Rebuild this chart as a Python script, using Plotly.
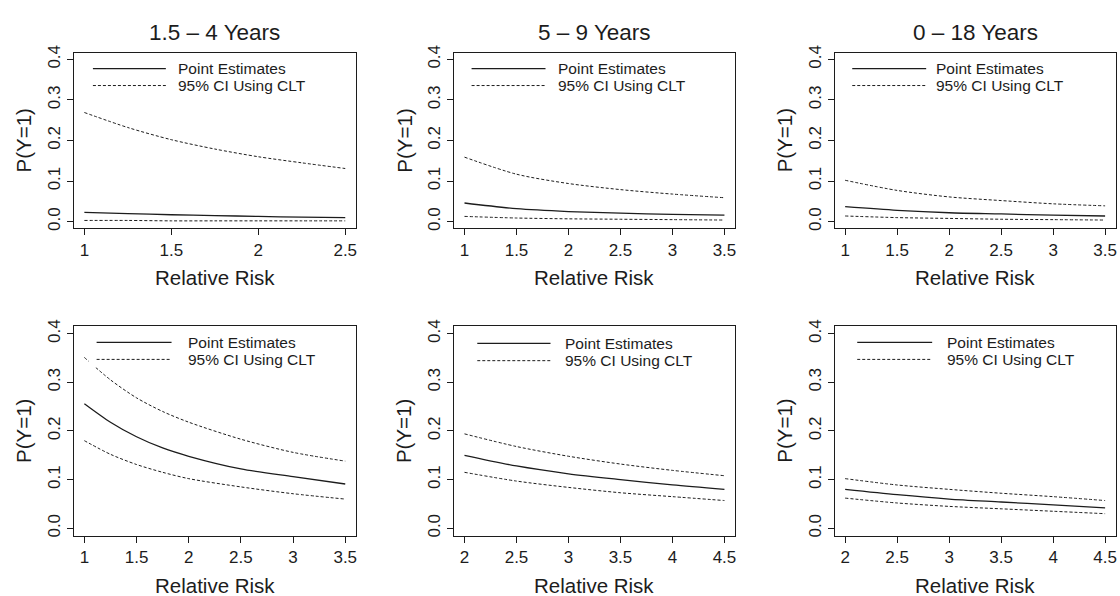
import plotly.graph_objects as go

W, H = 1120, 596
FONT = "Liberation Sans, Arial, Helvetica, sans-serif"
INK = "#1c1c1c"

# ---------------- data ----------------
titles = ["1.5 – 4 Years", "5 – 9 Years", "0 – 18 Years"]
legend_labels = ["Point Estimates", "95% CI Using CLT"]
x_label = "Relative Risk"
y_label = "P(Y=1)"
y_ticks = [0.0, 0.1, 0.2, 0.3, 0.4]
y_tick_text = ["0.0", "0.1", "0.2", "0.3", "0.4"]

# top-left: 1.5 - 4 years
tl_x = [1, 1.25, 1.5, 1.75, 2, 2.25, 2.5]
tl_upper = [0.269, 0.232, 0.202, 0.179, 0.160, 0.145, 0.131]
tl_point = [0.023, 0.020, 0.017, 0.015, 0.013, 0.011, 0.010]
tl_lower = [0.003, 0.003, 0.002, 0.002, 0.002, 0.002, 0.002]
tl_xticks = [1, 1.5, 2, 2.5]

# top-middle: 5 - 9 years
tm_x = [1, 1.5, 2, 2.5, 3, 3.5]
tm_upper = [0.159, 0.117, 0.094, 0.079, 0.068, 0.059]
tm_point = [0.046, 0.032, 0.025, 0.021, 0.018, 0.016]
tm_lower = [0.013, 0.009, 0.007, 0.006, 0.005, 0.004]
tm_xticks = [1, 1.5, 2, 2.5, 3, 3.5]

# top-right: 0 - 18 years
tr_x = [1, 1.5, 2, 2.5, 3, 3.5]
tr_upper = [0.102, 0.077, 0.061, 0.052, 0.044, 0.039]
tr_point = [0.037, 0.028, 0.022, 0.019, 0.016, 0.014]
tr_lower = [0.014, 0.010, 0.008, 0.006, 0.005, 0.004]
tr_xticks = [1, 1.5, 2, 2.5, 3, 3.5]

# bottom-left
bl_x = [1, 1.25, 1.5, 1.75, 2, 2.5, 3, 3.5]
bl_upper = [0.351, 0.305, 0.268, 0.240, 0.218, 0.183, 0.156, 0.138]
bl_point = [0.256, 0.218, 0.188, 0.165, 0.148, 0.122, 0.106, 0.091]
bl_lower = [0.180, 0.152, 0.131, 0.115, 0.102, 0.085, 0.071, 0.060]
bl_xticks = [1, 1.5, 2, 2.5, 3, 3.5]

# bottom-middle
bm_x = [2, 2.5, 3, 3.5, 4, 4.5]
bm_upper = [0.194, 0.168, 0.148, 0.132, 0.119, 0.108]
bm_point = [0.150, 0.128, 0.112, 0.100, 0.089, 0.080]
bm_lower = [0.115, 0.097, 0.084, 0.073, 0.065, 0.057]
bm_xticks = [2, 2.5, 3, 3.5, 4, 4.5]

# bottom-right
br_x = [2, 2.5, 3, 3.5, 4, 4.5]
br_upper = [0.102, 0.089, 0.080, 0.072, 0.065, 0.057]
br_point = [0.080, 0.069, 0.060, 0.054, 0.048, 0.042]
br_lower = [0.062, 0.052, 0.045, 0.040, 0.035, 0.030]
br_xticks = [2, 2.5, 3, 3.5, 4, 4.5]

panels = [
    (tl_x, tl_upper, tl_point, tl_lower, tl_xticks),
    (tm_x, tm_upper, tm_point, tm_lower, tm_xticks),
    (tr_x, tr_upper, tr_point, tr_lower, tr_xticks),
    (bl_x, bl_upper, bl_point, bl_lower, bl_xticks),
    (bm_x, bm_upper, bm_point, bm_lower, bm_xticks),
    (br_x, br_upper, br_point, br_lower, br_xticks),
]

# ---------------- layout geometry (pixels) ----------------
col_px = [(74, 356), (454.5, 735.5), (835.5, 1116.5)]
row_px = [(45.7, 224.3), (323.8, 538.0)]
xlabel_cy = [274.5, 588.5]
# legend: line start, line end, text start, y solid, y dashed
legend_px = [
    (93, 166, 176, 61.7, 79),
    (472, 546, 556, 61.7, 79),
    (853, 927, 935, 61.7, 79),
    (96.7, 171.7, 185.7, 340.7, 358),
    (477.7, 551, 564, 341.7, 359.3),
    (858, 933, 946, 340.7, 358),
]


def px_x(v):
    return v / W


def px_y(v):
    return 1 - v / H


DASH = "3px,2px"

fig = go.Figure()
layout = dict(
    width=W, height=H, margin=dict(l=0, r=0, t=0, b=0),
    paper_bgcolor="white", plot_bgcolor="white", showlegend=False,
    font=dict(family=FONT, color=INK),
)
shapes = []
annotations = []

for i, (xs, up, pt, lo, xt) in enumerate(panels):
    k = i + 1
    sfx = "" if k == 1 else str(k)
    r, c = divmod(i, 3)
    x0p, x1p = col_px[c]
    y0p, y1p = row_px[r]
    for ys, dash, w in ((up, DASH, 1.0), (pt, "solid", 1.3), (lo, DASH, 1.0)):
        fig.add_trace(go.Scatter(
            x=xs, y=ys, mode="lines", xaxis="x" + sfx, yaxis="y" + sfx,
            line=dict(color=INK, width=w, dash=dash, shape="spline", smoothing=0.8),
            hoverinfo="skip",
        ))
    span = xt[-1] - xt[0]
    layout["xaxis" + sfx] = dict(
        domain=[px_x(x0p), px_x(x1p)], anchor="y" + sfx,
        range=[xt[0] - 0.04 * span, xt[-1] + 0.04 * span],
        tickvals=xt, ticktext=[("%g" % v) for v in xt],
        showline=True, mirror=True, linecolor=INK, linewidth=1,
        ticks="outside", ticklen=6, tickcolor=INK, tickwidth=1,
        showgrid=False, zeroline=False, fixedrange=True,
        tickfont=dict(size=17, family=FONT, color=INK),
    )
    layout["yaxis" + sfx] = dict(
        domain=[px_y(y1p), px_y(y0p)], anchor="x" + sfx,
        range=[-0.016, 0.416],
        tickvals=y_ticks, ticktext=y_tick_text, tickangle=-90,
        showline=True, mirror=True, linecolor=INK, linewidth=1,
        ticks="outside", ticklen=6, tickcolor=INK, tickwidth=1,
        showgrid=False, zeroline=False, fixedrange=True,
        tickfont=dict(size=17, family=FONT, color=INK),
    )
    cx = (x0p + x1p) / 2
    cy = (y0p + y1p) / 2
    annotations.append(dict(
        text=x_label, x=px_x(cx), y=px_y(xlabel_cy[r]),
        xref="paper", yref="paper", showarrow=False, xanchor="center", yanchor="middle",
        font=dict(size=20.5, family=FONT, color=INK),
    ))
    annotations.append(dict(
        text=y_label, x=px_x(x0p - 50), y=px_y(cy),
        xref="paper", yref="paper", showarrow=False, textangle=-90,
        xanchor="center", yanchor="middle",
        font=dict(size=20.5, family=FONT, color=INK),
    ))
    if r == 0:
        annotations.append(dict(
            text=titles[c], x=px_x(cx), y=px_y(24.5),
            xref="paper", yref="paper", showarrow=False, xanchor="center", yanchor="middle",
            font=dict(size=22.5, family=FONT, color=INK),
        ))
    # legend drawn as in the original: white background, no border
    lx0, lx1, tx, ys_, yd_ = legend_px[i]
    shapes.append(dict(
        type="rect", xref="paper", yref="paper", layer="above",
        x0=px_x(lx0 - 8), x1=px_x(tx + 130), y0=px_y(y0p + 2), y1=px_y(yd_ + 8),
        fillcolor="white", line=dict(width=0),
    ))
    shapes.append(dict(
        type="line", xref="paper", yref="paper", layer="above",
        x0=px_x(lx0), x1=px_x(lx1), y0=px_y(ys_), y1=px_y(ys_),
        line=dict(color=INK, width=1.3),
    ))
    shapes.append(dict(
        type="line", xref="paper", yref="paper", layer="above",
        x0=px_x(lx0), x1=px_x(lx1), y0=px_y(yd_), y1=px_y(yd_),
        line=dict(color=INK, width=1.0, dash=DASH),
    ))
    for lab, yy in zip(legend_labels, (ys_, yd_)):
        annotations.append(dict(
            text=lab, x=px_x(tx), y=px_y(yy), xref="paper", yref="paper",
            showarrow=False, xanchor="left", yanchor="middle",
            font=dict(size=15.5, family=FONT, color=INK),
        ))

layout["shapes"] = shapes
layout["annotations"] = annotations
fig.update_layout(**layout)
fig.write_html(
    "out.html",
    config={"displayModeBar": False},
    post_script="document.body.style.margin='0';document.body.style.overflow='hidden';",
)
